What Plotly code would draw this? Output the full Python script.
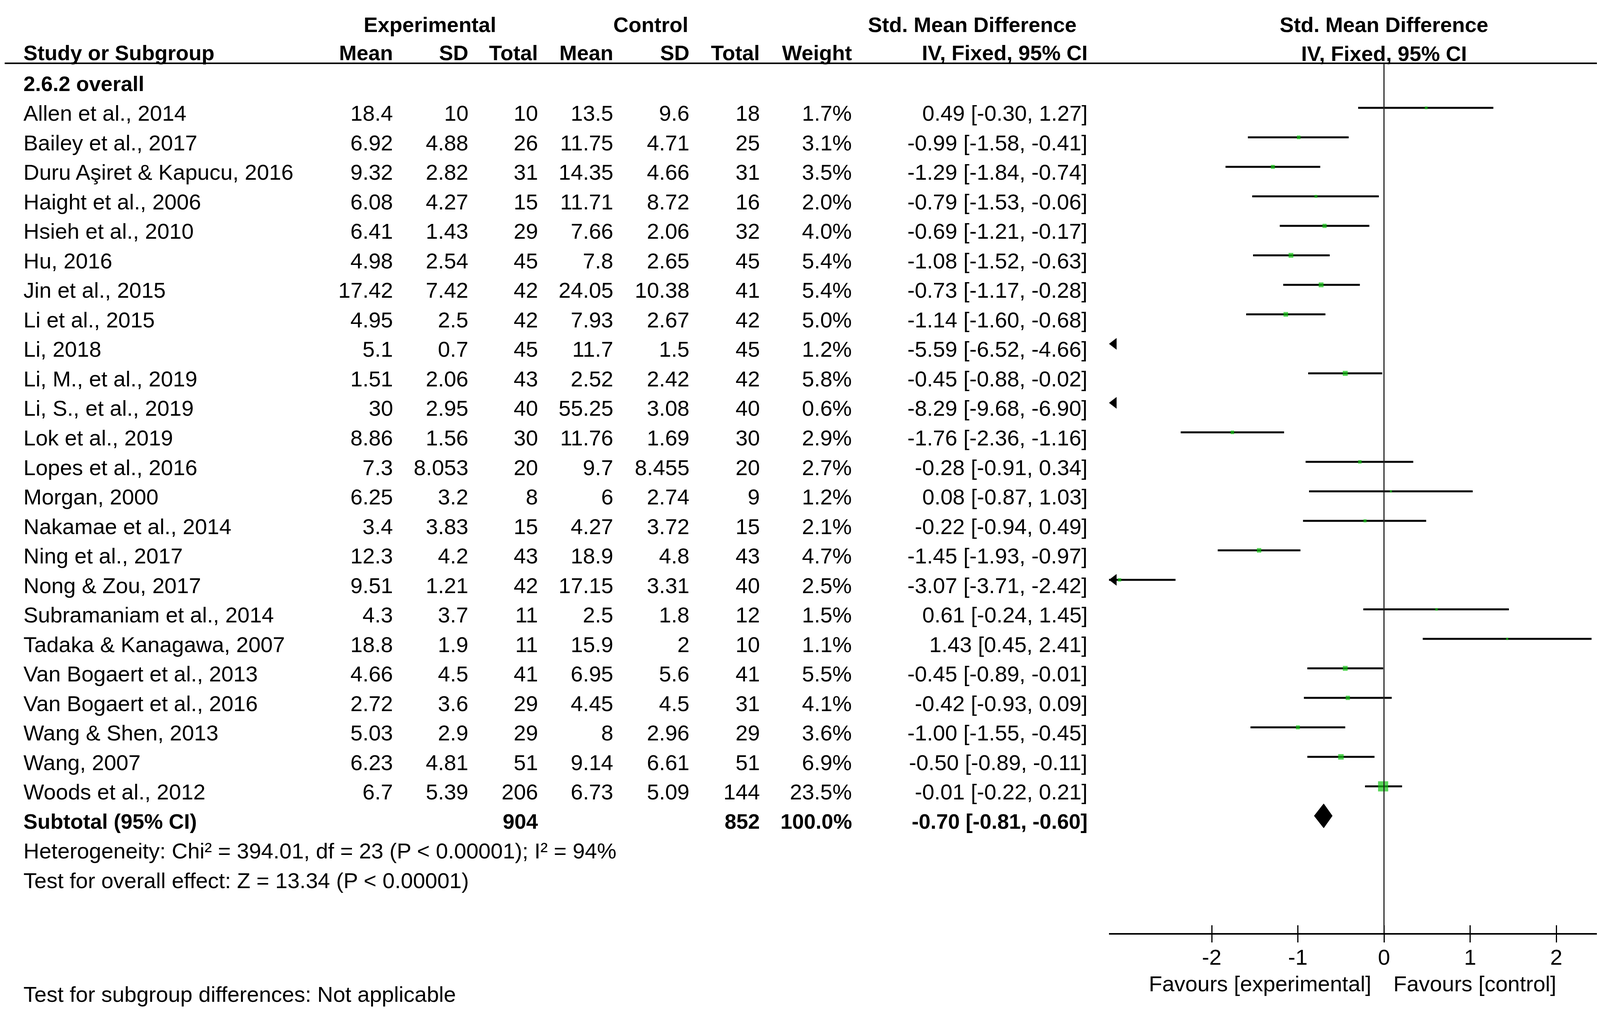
import numpy as np
import plotly.graph_objects as go

# ---- data ----
studies = [
    "Allen et al., 2014", "Bailey et al., 2017", "Duru Aşiret & Kapucu, 2016",
    "Haight et al., 2006", "Hsieh et al., 2010", "Hu, 2016", "Jin et al., 2015",
    "Li et al., 2015", "Li, 2018", "Li, M., et al., 2019", "Li, S., et al., 2019",
    "Lok et al., 2019", "Lopes et al., 2016", "Morgan, 2000", "Nakamae et al., 2014",
    "Ning et al., 2017", "Nong & Zou, 2017", "Subramaniam et al., 2014",
    "Tadaka & Kanagawa, 2007", "Van Bogaert et al., 2013", "Van Bogaert et al., 2016",
    "Wang & Shen, 2013", "Wang, 2007", "Woods et al., 2012",
]
exp_mean = [18.4, 6.92, 9.32, 6.08, 6.41, 4.98, 17.42, 4.95, 5.1, 1.51, 30, 8.86,
            7.3, 6.25, 3.4, 12.3, 9.51, 4.3, 18.8, 4.66, 2.72, 5.03, 6.23, 6.7]
exp_sd = [10, 4.88, 2.82, 4.27, 1.43, 2.54, 7.42, 2.5, 0.7, 2.06, 2.95, 1.56,
          8.053, 3.2, 3.83, 4.2, 1.21, 3.7, 1.9, 4.5, 3.6, 2.9, 4.81, 5.39]
exp_n = [10, 26, 31, 15, 29, 45, 42, 42, 45, 43, 40, 30,
         20, 8, 15, 43, 42, 11, 11, 41, 29, 29, 51, 206]
ctl_mean = [13.5, 11.75, 14.35, 11.71, 7.66, 7.8, 24.05, 7.93, 11.7, 2.52, 55.25, 11.76,
            9.7, 6, 4.27, 18.9, 17.15, 2.5, 15.9, 6.95, 4.45, 8, 9.14, 6.73]
ctl_sd = [9.6, 4.71, 4.66, 8.72, 2.06, 2.65, 10.38, 2.67, 1.5, 2.42, 3.08, 1.69,
          8.455, 2.74, 3.72, 4.8, 3.31, 1.8, 2, 5.6, 4.5, 2.96, 6.61, 5.09]
ctl_n = [18, 25, 31, 16, 32, 45, 41, 42, 45, 42, 40, 30,
         20, 9, 15, 43, 40, 12, 10, 41, 31, 29, 51, 144]
weight = [1.7, 3.1, 3.5, 2.0, 4.0, 5.4, 5.4, 5.0, 1.2, 5.8, 0.6, 2.9,
          2.7, 1.2, 2.1, 4.7, 2.5, 1.5, 1.1, 5.5, 4.1, 3.6, 6.9, 23.5]
smd = [0.49, -0.99, -1.29, -0.79, -0.69, -1.08, -0.73, -1.14, -5.59, -0.45, -8.29, -1.76,
       -0.28, 0.08, -0.22, -1.45, -3.07, 0.61, 1.43, -0.45, -0.42, -1.00, -0.50, -0.01]
ci_low = [-0.30, -1.58, -1.84, -1.53, -1.21, -1.52, -1.17, -1.60, -6.52, -0.88, -9.68, -2.36,
          -0.91, -0.87, -0.94, -1.93, -3.71, -0.24, 0.45, -0.89, -0.93, -1.55, -0.89, -0.22]
ci_high = [1.27, -0.41, -0.74, -0.06, -0.17, -0.63, -0.28, -0.68, -4.66, -0.02, -6.90, -1.16,
           0.34, 1.03, 0.49, -0.97, -2.42, 1.45, 2.41, -0.01, 0.09, -0.45, -0.11, 0.21]

total_exp = 904
total_ctl = 852
total_weight = 100.0
pooled = -0.70
pooled_low = -0.81
pooled_high = -0.60

subgroup_label = "2.6.2 overall"
heterogeneity = "Heterogeneity: Chi² = 394.01, df = 23 (P &lt; 0.00001); I² = 94%"
overall_effect = "Test for overall effect: Z = 13.34 (P &lt; 0.00001)"
subgroup_diff = "Test for subgroup differences: Not applicable"

tick_vals = [-2, -1, 0, 1, 2]
tick_text = ["-2", "-1", "0", "1", "2"]
favours = ["Favours [experimental]", "Favours [control]"]

# ---- layout constants (screen pixels) ----
W, H = 4317, 2590
OFF = 8                           # page body margin around the plot div
FW, FH = W - 2 * OFF, H - 2 * OFF
FONT = "Liberation Sans"
FS, FSB = 56, 54
ROW0, ROW = 200.5, 75.5          # centre of row 0 marks, row pitch
TEXT_DY = 14                      # text sits a little below the marks
HEAD_LINE = 162
AXIS_Y = 2388
X_LEFT, X_ZERO, X_UNIT, X_RIGHT = 2839, 3543, 220.5, 4252

xmin = (X_LEFT - X_ZERO) / X_UNIT
xmax = (X_RIGHT - X_ZERO) / X_UNIT
n = len(studies)
rows = np.arange(1, n + 1)


def px(x):
    return (x - OFF) / FW


def py(y):
    return 1 - (y - OFF) / FH


def row_text_y(r):
    return ROW0 + TEXT_DY + r * ROW


def ann(x, y, s, anchor="right", bold=False):
    return dict(
        x=px(x), y=py(y), xref="paper", yref="paper",
        text=f"<b>{s}</b>" if bold else s, showarrow=False,
        xanchor=anchor, yanchor="middle",
        font=dict(family=FONT, size=FSB if bold else FS, color="black"),
    )


fig = go.Figure()

# confidence interval lines (clipped at the left end of the axis)
xs, ys = [], []
for r, lo, hi in zip(rows, ci_low, ci_high):
    if hi < xmin:
        continue
    xs += [max(lo, xmin), hi, None]
    ys += [r, r, None]
fig.add_trace(go.Scatter(x=xs, y=ys, mode="lines",
                         line=dict(color="black", width=5), hoverinfo="skip"))

# study squares, side ~ sqrt(weight)
w = np.array(weight)
sizes = np.maximum(26 * np.sqrt(w / w.max()), 5)
fig.add_trace(go.Scatter(x=smd, y=rows, mode="markers",
                         marker=dict(symbol="square", size=sizes, color="#14c414",
                                     line=dict(width=0))))

# arrows for intervals running off the left edge
arr_rows = [r for r, lo in zip(rows, ci_low) if lo < xmin]
fig.add_trace(go.Scatter(x=[xmin + 13 / X_UNIT] * len(arr_rows), y=arr_rows, mode="markers",
                         marker=dict(symbol="triangle-left", size=26, color="black"),
                         cliponaxis=False))

# pooled diamond
r_sub = n + 1
hd = 31 / ROW
fig.add_trace(go.Scatter(x=[pooled_low, pooled, pooled_high, pooled, pooled_low],
                         y=[r_sub, r_sub - hd, r_sub, r_sub + hd, r_sub],
                         mode="lines", fill="toself", fillcolor="black",
                         line=dict(color="black", width=1)))

# dummy trace so the inward-tick axis gets drawn
fig.add_trace(go.Scatter(x=[0], y=[None], xaxis="x2", mode="markers",
                         marker=dict(opacity=0)))

# ---- text table ----
anns = []
cols = [1008, 1201, 1379, 1572, 1767, 1947, 2183, 2786]
NAME_X = 58

# headers
anns.append(ann(1100, 63, "Experimental", "center", True))
anns.append(ann(1666, 63, "Control", "center", True))
anns.append(ann(2489, 63, "Std. Mean Difference", "center", True))
anns.append(ann(X_ZERO, 63, "Std. Mean Difference", "center", True))
anns.append(ann(NAME_X, 135, "Study or Subgroup", "left", True))
for x, s in zip(cols, ["Mean", "SD", "Total", "Mean", "SD", "Total", "Weight",
                       "IV, Fixed, 95% CI"]):
    anns.append(ann(x, 135, s, "right", True))
anns.append(ann(X_ZERO, 137, "IV, Fixed, 95% CI", "center", True))

anns.append(ann(NAME_X, row_text_y(0), subgroup_label, "left", True))

for i in range(n):
    y = row_text_y(rows[i])
    vals = [f"{exp_mean[i]:g}", f"{exp_sd[i]:g}", f"{exp_n[i]}",
            f"{ctl_mean[i]:g}", f"{ctl_sd[i]:g}", f"{ctl_n[i]}",
            f"{weight[i]:.1f}%",
            f"{smd[i]:.2f} [{ci_low[i]:.2f}, {ci_high[i]:.2f}]"]
    anns.append(ann(NAME_X, y, studies[i], "left"))
    for x, s in zip(cols, vals):
        anns.append(ann(x, y, s, "right"))

y = row_text_y(r_sub)
anns.append(ann(NAME_X, y, "Subtotal (95% CI)", "left", True))
anns.append(ann(cols[2], y, f"{total_exp}", "right", True))
anns.append(ann(cols[5], y, f"{total_ctl}", "right", True))
anns.append(ann(cols[6], y, f"{total_weight:.1f}%", "right", True))
anns.append(ann(cols[7], y, f"{pooled:.2f} [{pooled_low:.2f}, {pooled_high:.2f}]", "right", True))

anns.append(ann(NAME_X, row_text_y(r_sub + 1), heterogeneity, "left"))
anns.append(ann(NAME_X, row_text_y(r_sub + 2), overall_effect, "left"))
anns.append(ann(NAME_X, 2544, subgroup_diff, "left"))

anns.append(ann(X_ZERO - 30, 2517, favours[0], "right"))
anns.append(ann(X_ZERO + 22, 2517, favours[1], "left"))

# header rule and zero line
shapes = [
    dict(type="line", xref="paper", yref="paper", x0=px(12), x1=px(4300),
         y0=py(HEAD_LINE), y1=py(HEAD_LINE), line=dict(color="black", width=4)),
    dict(type="line", xref="x", yref="y domain", x0=0, x1=0, y0=0, y1=1,
         line=dict(color="#222222", width=3)),
]

axis_common = dict(range=[xmin, xmax], domain=[px(X_LEFT), px(X_RIGHT)],
                   tickvals=tick_vals, ticklen=20, tickwidth=3, tickcolor="black",
                   showgrid=False, zeroline=False, fixedrange=True)

fig.update_layout(
    width=FW, height=FH,
    margin=dict(l=0, r=0, t=0, b=0),
    paper_bgcolor="white", plot_bgcolor="white",
    showlegend=False,
    xaxis=dict(**axis_common, ticktext=tick_text, ticks="outside",
               showline=True, linewidth=4, linecolor="black",
               tickfont=dict(family=FONT, size=FS, color="black"),
               ticklabelstandoff=-10),
    xaxis2=dict(**axis_common, overlaying="x", anchor="y", side="bottom",
                ticks="inside", showticklabels=False, showline=False),
    yaxis=dict(range=[(AXIS_Y - ROW0) / ROW, (HEAD_LINE - ROW0) / ROW],
               domain=[py(AXIS_Y), py(HEAD_LINE)],
               visible=False, fixedrange=True),
    annotations=anns,
    shapes=shapes,
)

fig.write_html("out.html")
